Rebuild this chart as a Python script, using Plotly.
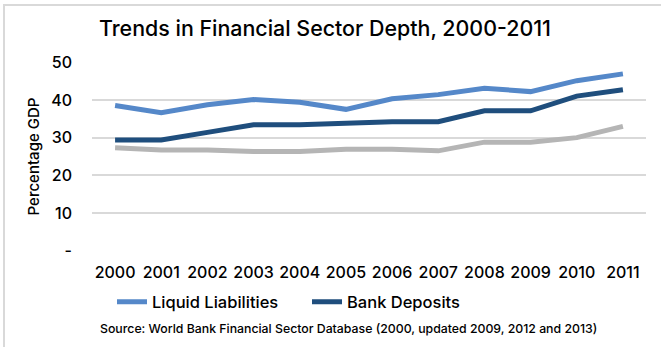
import plotly.graph_objects as go

# Financial sector depth indicators, percent of GDP
years = ["2000", "2001", "2002", "2003", "2004", "2005",
         "2006", "2007", "2008", "2009", "2010", "2011"]
liquid_liabilities = [38.5, 36.6, 38.7, 40.1, 39.4, 37.5, 40.3, 41.4, 43.1, 42.2, 45.1, 46.9]
bank_deposits = [29.4, 29.4, 31.4, 33.4, 33.4, 33.9, 34.2, 34.2, 37.1, 37.1, 41.0, 42.7]
private_credit = [27.3, 26.7, 26.7, 26.3, 26.3, 26.9, 26.9, 26.5, 28.8, 28.8, 30.0, 33.0]

y_tickvals = [0, 10, 20, 30, 40, 50]
y_ticktext = ["-", "10", "20", "30", "40", "50"]

FONT = "Inter"
W, H = 661, 347
ML, MR, MT, MB = 92, 15, 62, 96
PW, PH = W - ML - MR, H - MT - MB

fig = go.Figure()
fig.add_trace(go.Scatter(x=years, y=private_credit, mode="lines", name="Private Credit",
                         line=dict(color="#B5B5B5", width=5), showlegend=False))
fig.add_trace(go.Scatter(x=years, y=bank_deposits, mode="lines", name="Bank Deposits",
                         line=dict(color="#1F4E7D", width=5)))
fig.add_trace(go.Scatter(x=years, y=liquid_liabilities, mode="lines", name="Liquid Liabilities",
                         line=dict(color="#5588C9", width=5)))

fig.update_layout(
    width=W, height=H,
    margin=dict(l=ML, r=MR, t=MT, b=MB),
    paper_bgcolor="white", plot_bgcolor="white",
    font=dict(family=FONT, color="#000000", size=16, weight=500),
    showlegend=True,
    legend=dict(orientation="h", x=(112 - ML) / PW, xanchor="left",
                y=-(302 - (H - MB)) / PH, yanchor="middle",
                traceorder="reversed", itemwidth=30, entrywidth=150,
                font=dict(size=16.5, weight=500), bgcolor="rgba(0,0,0,0)"),
    xaxis=dict(type="category", range=[-0.5, 11.5], showgrid=False, zeroline=False,
               showline=False, ticks="", tickfont=dict(size=16, weight=500),
               ticklabelstandoff=10),
    yaxis=dict(range=[-0.05, 50.05], tickvals=y_tickvals, ticktext=y_ticktext,
               showgrid=True, gridcolor="#D9D9D9", gridwidth=2, zeroline=False,
               showline=False, ticks="", tickfont=dict(size=16, weight=500),
               ticklabelstandoff=19,
               title=dict(text="Percentage GDP", font=dict(size=15, weight=500), standoff=7)),
    shapes=[dict(type="rect", xref="paper", yref="paper",
                 x0=-(ML - 4) / PW, x1=1.2, y0=-1.0, y1=1 + (MT - 5) / PH,
                 line=dict(color="#D9D9D9", width=2), fillcolor="rgba(0,0,0,0)",
                 layer="below")],
    annotations=[
        dict(text="Trends in Financial Sector Depth, 2000-2011", xref="paper", yref="paper",
             x=(325.4 - ML) / PW, y=1 + (MT - 28) / PH, xanchor="center", yanchor="middle",
             showarrow=False, font=dict(size=21.4, family=FONT, color="#000000", weight=500)),
        dict(text="Source: World Bank Financial Sector Database (2000, updated 2009, 2012 and 2013)",
             xref="paper", yref="paper",
             x=(348.5 - ML) / PW, y=-(328 - (H - MB)) / PH, xanchor="center",
             yanchor="middle", showarrow=False,
             font=dict(size=12.3, family=FONT, color="#000000", weight=500)),
    ],
)

fig.write_html("out.html")
